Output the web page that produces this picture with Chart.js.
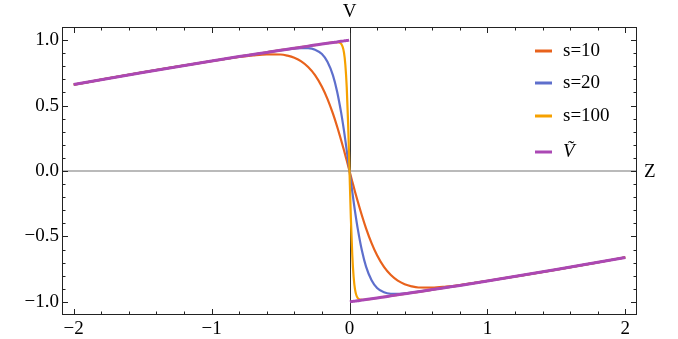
<!DOCTYPE html>
<html>
<head>
<meta charset="utf-8">
<script src="https://cdn.jsdelivr.net/npm/chart.js@4.4.1/dist/chart.umd.min.js"></script>
<style>
  html, body { margin: 0; padding: 0; background: #fff; }
  #wrap { width: 678px; height: 339px; }
</style>
</head>
<body>
<div id="wrap"><canvas id="myChart"></canvas></div>
<script>
// z grid, dense near the jump at 0
const zValues = [-2, -1.75, -1.5, -1.25, -1, -0.9, -0.8, -0.7, -0.6, -0.5, -0.45, -0.4, -0.35, -0.3, -0.25, -0.2, -0.16, -0.12, -0.09, -0.06, -0.04, -0.03, -0.02, -0.01, -0.003,
  0,
  0.003, 0.01, 0.02, 0.03, 0.04, 0.06, 0.09, 0.12, 0.16, 0.2, 0.25, 0.3, 0.35, 0.4, 0.45, 0.5, 0.6, 0.7, 0.8, 0.9, 1, 1.25, 1.5, 1.75, 2];

const s10 = [0.660, 0.707, 0.753, 0.797, 0.839, 0.856, 0.871, 0.883, 0.891, 0.890, 0.881, 0.865, 0.838, 0.795, 0.733, 0.644, 0.551, 0.438, 0.340, 0.233, 0.158, 0.119, 0.080, 0.040, 0.012,
  0,
  -0.012, -0.040, -0.080, -0.119, -0.158, -0.233, -0.340, -0.438, -0.551, -0.644, -0.733, -0.795, -0.838, -0.865, -0.881, -0.890, -0.891, -0.883, -0.871, -0.856, -0.839, -0.797, -0.753, -0.707, -0.660];

const s20 = [0.660, 0.707, 0.753, 0.797, 0.840, 0.857, 0.874, 0.890, 0.906, 0.922, 0.929, 0.935, 0.939, 0.938, 0.927, 0.894, 0.835, 0.731, 0.608, 0.442, 0.308, 0.234, 0.158, 0.080, 0.024,
  0,
  -0.024, -0.080, -0.158, -0.234, -0.308, -0.442, -0.608, -0.731, -0.835, -0.894, -0.927, -0.938, -0.939, -0.935, -0.929, -0.922, -0.906, -0.890, -0.874, -0.857, -0.840, -0.797, -0.753, -0.707, -0.660];

const s100 = [0.660, 0.707, 0.753, 0.797, 0.840, 0.857, 0.874, 0.890, 0.906, 0.923, 0.930, 0.938, 0.946, 0.954, 0.962, 0.970, 0.976, 0.982, 0.984, 0.971, 0.904, 0.810, 0.639, 0.362, 0.113,
  0,
  -0.113, -0.362, -0.639, -0.810, -0.904, -0.971, -0.984, -0.982, -0.976, -0.970, -0.962, -0.954, -0.946, -0.938, -0.930, -0.923, -0.906, -0.890, -0.874, -0.857, -0.840, -0.797, -0.753, -0.707, -0.660];

// V tilde jumps at 0, no point there
const vTilde = [0.660, 0.707, 0.753, 0.797, 0.840, 0.857, 0.874, 0.890, 0.906, 0.923, 0.930, 0.938, 0.946, 0.954, 0.962, 0.970, 0.976, 0.982, 0.986, 0.991, 0.994, 0.995, 0.997, 0.998, 1.000,
  null,
  -1.000, -0.998, -0.997, -0.995, -0.994, -0.991, -0.986, -0.982, -0.976, -0.970, -0.962, -0.954, -0.946, -0.938, -0.930, -0.923, -0.906, -0.890, -0.874, -0.857, -0.840, -0.797, -0.753, -0.707, -0.660];

const seriesNames = ['s=10', 's=20', 's=100', 'V\u0303'];
const seriesColors = ['#e8621c', '#5e6fcc', '#f6a100', '#ab48b4'];
const xTicks = [-2, -1, 0, 1, 2];
const yTicks = [-1, -0.5, 0, 0.5, 1];

const serif = '"Liberation Serif", "Times New Roman", Times, serif';
Chart.defaults.font.family = serif;
Chart.defaults.font.size = 19;
Chart.defaults.color = '#000';

function pts(vals) {
  return zValues.map((z, i) => ({ x: z, y: vals[i] }));
}

function fmt(v, digits) {
  const s = v.toFixed(digits);
  return v < 0 ? '\u2212' + s.slice(1) : s;
}

const framePlugin = {
  id: 'framePlugin',
  beforeDatasetsDraw(chart) {
    const { ctx, chartArea: a, scales: { x, y } } = chart;
    ctx.save();
    const y0 = y.getPixelForValue(0);
    ctx.strokeStyle = '#a3a3a3';
    ctx.lineWidth = 1.3;
    ctx.beginPath();
    ctx.moveTo(a.left, y0);
    ctx.lineTo(a.right, y0);
    ctx.stroke();
    const x0 = x.getPixelForValue(0);
    ctx.strokeStyle = '#333';
    ctx.lineWidth = 1;
    ctx.beginPath();
    ctx.moveTo(Math.round(x0) + 0.5, a.top);
    ctx.lineTo(Math.round(x0) + 0.5, a.bottom);
    ctx.stroke();
    ctx.restore();
  },
  afterDatasetsDraw(chart) {
    const { ctx, chartArea: a, scales: { x, y } } = chart;
    ctx.save();
    ctx.strokeStyle = '#222';
    ctx.lineWidth = 1;
    ctx.strokeRect(a.left + 0.5, a.top + 0.5, a.right - a.left - 1, a.bottom - a.top - 1);

    // ticks pointing inwards, on all four sides
    ctx.beginPath();
    for (let k = -10; k <= 10; k++) {
      const px = Math.round(x.getPixelForValue(k / 5)) + 0.5;
      const len = k % 5 === 0 ? 6 : 3.5;
      ctx.moveTo(px, a.bottom); ctx.lineTo(px, a.bottom - len);
      ctx.moveTo(px, a.top); ctx.lineTo(px, a.top + len);
    }
    for (let k = -10; k <= 10; k++) {
      const py = Math.round(y.getPixelForValue(k / 10)) + 0.5;
      const len = k % 5 === 0 ? 6 : 3.5;
      ctx.moveTo(a.left, py); ctx.lineTo(a.left + len, py);
      ctx.moveTo(a.right, py); ctx.lineTo(a.right - len, py);
    }
    ctx.stroke();

    // axis labels
    ctx.fillStyle = '#000';
    ctx.font = '19px ' + serif;
    ctx.textAlign = 'center';
    ctx.textBaseline = 'middle';
    ctx.fillText('V', x.getPixelForValue(0), a.top - 15);
    ctx.textAlign = 'left';
    ctx.fillText('Z', a.right + 7, y.getPixelForValue(0) + 1);

    // legend
    const rowY = [24, 56, 89, 125];
    seriesNames.forEach((name, i) => {
      const ly = a.top + rowY[i];
      ctx.strokeStyle = seriesColors[i];
      ctx.lineWidth = 3;
      ctx.beginPath();
      ctx.moveTo(a.right - 102, ly);
      ctx.lineTo(a.right - 85, ly);
      ctx.stroke();
      ctx.fillStyle = '#000';
      ctx.font = (i === 3 ? 'italic ' : '') + '19px ' + serif;
      ctx.fillText(name, a.right - 74, ly);
    });
    ctx.restore();
  }
};

const config = {
  type: 'line',
  data: {
    datasets: [
      { label: seriesNames[0], data: pts(s10), borderColor: seriesColors[0], borderWidth: 2.2, order: 4 },
      { label: seriesNames[1], data: pts(s20), borderColor: seriesColors[1], borderWidth: 2.2, order: 3 },
      { label: seriesNames[2], data: pts(s100), borderColor: seriesColors[2], borderWidth: 2.2, order: 2 },
      { label: seriesNames[3], data: pts(vTilde), borderColor: seriesColors[3], borderWidth: 3, order: 1, spanGaps: false },
    ],
  },
  options: {
    responsive: true,
    maintainAspectRatio: false,
    animation: false,
    events: [],
    layout: { padding: { left: 0, right: 41, top: 27, bottom: 0 } },
    elements: {
      point: { radius: 0 },
      line: { cubicInterpolationMode: 'monotone', fill: false },
    },
    plugins: { legend: { display: false }, tooltip: { enabled: false } },
    scales: {
      x: {
        type: 'linear',
        min: -2.085,
        max: 2.085,
        grid: { display: false, drawTicks: false },
        border: { display: false },
        afterBuildTicks: (s) => { s.ticks = xTicks.map(v => ({ value: v })); },
        afterFit: (s) => { s.height = 24; },
        ticks: { padding: 3, maxRotation: 0, callback: (v) => fmt(v, 0) },
      },
      y: {
        type: 'linear',
        min: -1.1,
        max: 1.1,
        grid: { display: false, drawTicks: false },
        border: { display: false },
        afterBuildTicks: (s) => { s.ticks = yTicks.map(v => ({ value: v })); },
        afterFit: (s) => { s.width = 62; },
        ticks: { padding: 3, callback: (v) => fmt(v, 1) },
      },
    },
  },
  plugins: [framePlugin],
};

const myChart = new Chart(document.getElementById('myChart'), config);
</script>
</body>
</html>
